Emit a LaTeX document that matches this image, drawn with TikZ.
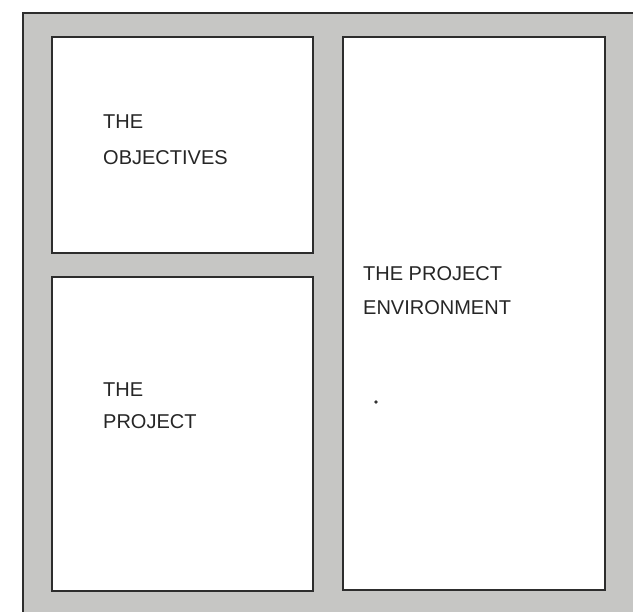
\documentclass[tikz,border=0pt]{standalone}
\usepackage{fontspec}
\setmainfont{Liberation Sans}
\definecolor{bggray}{RGB}{198,198,196}
\definecolor{edgegray}{RGB}{45,45,45}
\tikzset{
  panel/.style={draw=edgegray, line width=1.6pt, fill=white, anchor=north west, inner sep=0pt, outer sep=0pt},
  label/.style={anchor=base west, inner sep=0pt, font=\fontsize{20}{23}\selectfont, text=black!85}
}
\begin{document}
\begin{tikzpicture}[x=1pt,y=-1pt]
\useasboundingbox (0,0) rectangle (633,612);
% textured background
\fill[bggray] (23,13) rectangle (633,612);
\draw[edgegray, line width=1.8pt] (23,612) -- (23,13) -- (633,13);
% panels
\node[panel, minimum width=261pt, minimum height=216pt] (obj) at (52,37) {};
\node[panel, minimum width=261pt, minimum height=314pt] (proj) at (52,277) {};
\node[panel, minimum width=262pt, minimum height=553pt] (env) at (343,37) {};
% texts
\node[label] (t1) at (103,129) {THE};
\node[label] (t2) at (103,165) {OBJECTIVES};
\node[label] (t3) at (363,281) {THE PROJECT};
\node[label] (t4) at (363,315) {ENVIRONMENT};
\node[label] (t5) at (103,397) {THE};
\node[label] (t6) at (103,429) {PROJECT};
\fill[black!80] (376,402) circle (1.8pt);
\end{tikzpicture}
\end{document}
